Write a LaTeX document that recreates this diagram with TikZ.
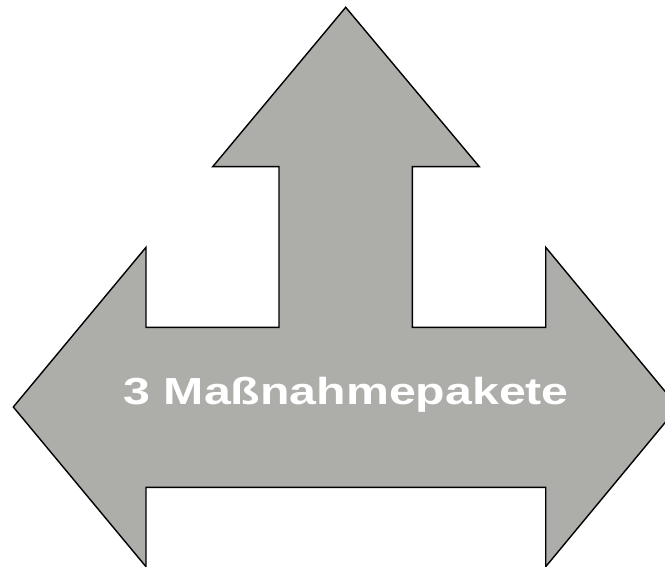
\documentclass[tikz,border=0pt]{standalone}
\usepackage{fontspec}
\setmainfont{Liberation Sans}
\usepackage{xcolor}
\definecolor{arrowgray}{HTML}{ADAEA9}

\begin{document}
\begin{tikzpicture}[x=1pt,y=-1pt]
  \useasboundingbox (0,0) rectangle (665,567);

  \draw[fill=arrowgray,line width=1.4pt,line join=miter]
    (345.7,7.3) -- (479.3,166.7) -- (412.3,166.7) -- (412.3,327.3)
    -- (545.7,327.3) -- (545.7,247.3) -- (678.0,407.0) -- (545.7,566.7)
    -- (545.7,487.3) -- (146.0,487.3) -- (146.0,566.7) -- (13.3,407.0)
    -- (146.0,247.3) -- (146.0,327.3) -- (279.0,327.3) -- (279.0,166.7)
    -- (212.7,166.7) -- cycle;

  \node[anchor=base,inner sep=0pt,text=white,xscale=1.28] (pakete) at (346.3,404.3)
    {\fontsize{37.7}{40}\selectfont\bfseries 3 Maßnahmepakete};
\end{tikzpicture}
\end{document}
